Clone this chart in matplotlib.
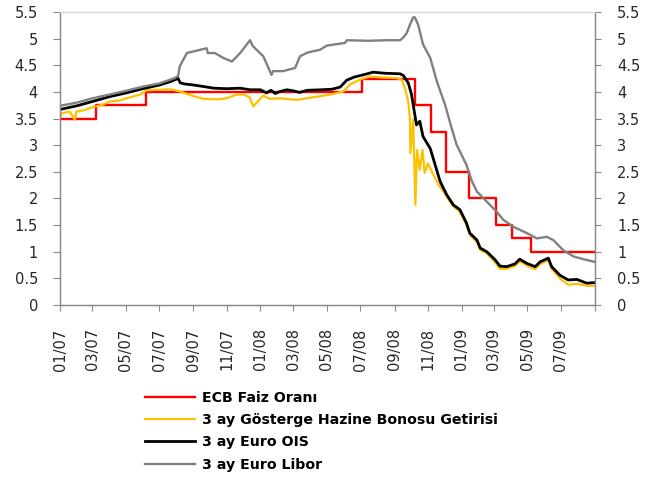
import matplotlib
matplotlib.use("Agg")
import matplotlib.pyplot as plt
import pandas as pd

# ECB policy rate: change dates and the new level
ecb_dates = ["2007-01-01", "2007-03-08", "2007-06-06", "2008-07-03", "2008-10-08",
             "2008-11-06", "2008-12-04", "2009-01-15", "2009-03-05", "2009-04-02",
             "2009-05-07", "2009-08-31"]
ecb_rate = [3.50, 3.75, 4.00, 4.25, 3.75, 3.25, 2.50, 2.00, 1.50, 1.25, 1.00, 1.00]

# 3-month benchmark T-bill yield
bill_dates = ["2007-01-01", "2007-01-04", "2007-01-19", "2007-01-28", "2007-01-31",
              "2007-02-15", "2007-03-03", "2007-03-20", "2007-04-02", "2007-04-20",
              "2007-05-02", "2007-05-27", "2007-06-08", "2007-07-20", "2007-08-07",
              "2007-09-01", "2007-09-19", "2007-10-15", "2007-10-31", "2007-11-19",
              "2007-12-01", "2007-12-12", "2007-12-19", "2008-01-06", "2008-01-18",
              "2008-02-05", "2008-03-07", "2008-04-06", "2008-05-07", "2008-05-31",
              "2008-06-12", "2008-06-30", "2008-07-18", "2008-08-10", "2008-09-05",
              "2008-09-14", "2008-09-20", "2008-09-26", "2008-09-29", "2008-09-30",
              "2008-10-05", "2008-10-09", "2008-10-12", "2008-10-17", "2008-10-22",
              "2008-10-26", "2008-11-01", "2008-11-08", "2008-11-20", "2008-11-29",
              "2008-12-05", "2008-12-17", "2008-12-29", "2009-01-10", "2009-01-16",
              "2009-01-29", "2009-02-04", "2009-02-16", "2009-03-03", "2009-03-12",
              "2009-03-24", "2009-04-08", "2009-04-17", "2009-04-30", "2009-05-15",
              "2009-05-24", "2009-06-08", "2009-06-14", "2009-06-29", "2009-07-14",
              "2009-07-30", "2009-08-17", "2009-08-31"]
bill_yield = [3.51, 3.60, 3.63, 3.48, 3.63, 3.66, 3.72, 3.76, 3.82, 3.84,
              3.88, 3.95, 4.03, 4.05, 4.01, 3.92, 3.87, 3.86, 3.88, 3.95,
              3.95, 3.90, 3.73, 3.93, 3.87, 3.88, 3.85, 3.90, 3.95, 4.01,
              4.14, 4.23, 4.29, 4.27, 4.26, 4.23, 4.07, 3.82, 3.51, 2.85,
              3.48, 1.88, 2.91, 2.54, 2.91, 2.48, 2.66, 2.50, 2.26, 2.13,
              2.03, 1.85, 1.75, 1.50, 1.32, 1.18, 1.03, 0.97, 0.80, 0.68,
              0.68, 0.73, 0.82, 0.74, 0.67, 0.77, 0.84, 0.68, 0.50, 0.38,
              0.40, 0.36, 0.36]

# 3-month Euro OIS
ois_dates = ["2007-01-01", "2007-02-01", "2007-03-01", "2007-04-01", "2007-05-01",
             "2007-06-01", "2007-07-01", "2007-07-20", "2007-08-01", "2007-08-03",
             "2007-08-08", "2007-08-15", "2007-09-01", "2007-09-20", "2007-10-08",
             "2007-11-01", "2007-11-25", "2007-12-13", "2008-01-01", "2008-01-12",
             "2008-01-20", "2008-01-28", "2008-02-06", "2008-02-18", "2008-03-01",
             "2008-03-12", "2008-03-26", "2008-04-20", "2008-05-10", "2008-05-25",
             "2008-06-06", "2008-06-20", "2008-07-06", "2008-07-24", "2008-08-15",
             "2008-09-11", "2008-09-17", "2008-09-26", "2008-10-02", "2008-10-08",
             "2008-10-11", "2008-10-17", "2008-10-23", "2008-11-05", "2008-11-14",
             "2008-11-23", "2008-12-05", "2008-12-17", "2008-12-29", "2009-01-10",
             "2009-01-16", "2009-01-29", "2009-02-04", "2009-02-16", "2009-03-03",
             "2009-03-12", "2009-03-24", "2009-04-08", "2009-04-17", "2009-04-30",
             "2009-05-15", "2009-05-24", "2009-06-08", "2009-06-14", "2009-06-29",
             "2009-07-14", "2009-07-30", "2009-08-17", "2009-08-31"]
ois_rate = [3.67, 3.74, 3.82, 3.91, 3.98, 4.06, 4.13, 4.19, 4.24, 4.27,
            4.17, 4.15, 4.13, 4.10, 4.07, 4.06, 4.07, 4.04, 4.04, 3.98,
            4.03, 3.97, 4.01, 4.04, 4.02, 3.99, 4.03, 4.04, 4.05, 4.09,
            4.22, 4.28, 4.32, 4.37, 4.35, 4.34, 4.31, 4.17, 3.95, 3.57,
            3.38, 3.45, 3.16, 2.94, 2.63, 2.32, 2.07, 1.88, 1.79, 1.54,
            1.35, 1.22, 1.07, 1.00, 0.85, 0.73, 0.72, 0.77, 0.86, 0.78,
            0.72, 0.81, 0.88, 0.72, 0.56, 0.47, 0.48, 0.41, 0.42]

# 3-month Euro Libor
libor_dates = ["2007-01-01", "2007-02-01", "2007-03-01", "2007-04-01", "2007-05-01",
               "2007-06-01", "2007-07-01", "2007-07-29", "2007-08-04", "2007-08-07",
               "2007-08-20", "2007-09-01", "2007-09-25", "2007-09-27", "2007-10-10",
               "2007-10-25", "2007-11-10", "2007-11-25", "2007-12-13", "2007-12-18",
               "2008-01-06", "2008-01-21", "2008-01-24", "2008-02-11", "2008-03-04",
               "2008-03-13", "2008-03-27", "2008-04-18", "2008-05-01", "2008-06-03",
               "2008-06-06", "2008-07-15", "2008-08-20", "2008-09-11", "2008-09-16",
               "2008-09-23", "2008-09-29", "2008-10-05", "2008-10-08", "2008-10-14",
               "2008-10-23", "2008-11-05", "2008-11-17", "2008-12-02", "2008-12-14",
               "2008-12-23", "2009-01-10", "2009-01-20", "2009-01-29", "2009-02-16",
               "2009-03-06", "2009-03-18", "2009-04-05", "2009-04-30", "2009-05-18",
               "2009-06-05", "2009-06-17", "2009-07-05", "2009-07-24", "2009-08-11",
               "2009-08-31"]
libor_rate = [3.74, 3.80, 3.88, 3.95, 4.02, 4.10, 4.16, 4.26, 4.30, 4.48,
              4.73, 4.76, 4.82, 4.73, 4.73, 4.64, 4.57, 4.73, 4.97, 4.86,
              4.67, 4.32, 4.39, 4.39, 4.45, 4.67, 4.74, 4.79, 4.87, 4.92,
              4.97, 4.96, 4.97, 4.97, 5.01, 5.10, 5.26, 5.40, 5.40, 5.26,
              4.89, 4.64, 4.20, 3.76, 3.32, 3.01, 2.63, 2.32, 2.13, 1.94,
              1.75, 1.60, 1.47, 1.35, 1.25, 1.28, 1.22, 1.03, 0.91, 0.86,
              0.81]

labels = ["ECB Faiz Oranı", "3 ay Gösterge Hazine Bonosu Getirisi",
          "3 ay Euro OIS", "3 ay Euro Libor"]

tick_dates = ["2007-01-01", "2007-03-01", "2007-05-01", "2007-07-01", "2007-09-01",
              "2007-11-01", "2008-01-01", "2008-03-01", "2008-05-01", "2008-07-01",
              "2008-09-01", "2008-11-01", "2009-01-01", "2009-03-01", "2009-05-01",
              "2009-07-01", "2009-09-01"]
tick_labels = ["01/07", "03/07", "05/07", "07/07", "09/07", "11/07", "01/08", "03/08",
               "05/08", "07/08", "09/08", "11/08", "01/09", "03/09", "05/09", "07/09", ""]
y_ticks = [0, 0.5, 1, 1.5, 2, 2.5, 3, 3.5, 4, 4.5, 5, 5.5]
y_tick_labels = ["0", "0.5", "1", "1.5", "2", "2.5", "3", "3.5", "4", "4.5", "5", "5.5"]

plt.rcParams["font.family"] = ["DejaVu Sans"]

fig = plt.figure(figsize=(6.66, 4.79), dpi=100)
ax = fig.add_axes([60 / 666, 1 - 305 / 479, 535 / 666, 293 / 479])

to_dt = pd.to_datetime
l1, = ax.plot(to_dt(ecb_dates), ecb_rate, color="#FF0000", lw=1.7, drawstyle="steps-post")
l2, = ax.plot(to_dt(bill_dates), bill_yield, color="#FFC000", lw=1.6)
l3, = ax.plot(to_dt(ois_dates), ois_rate, color="#000000", lw=2.0)
l4, = ax.plot(to_dt(libor_dates), libor_rate, color="#808080", lw=1.7)

label_color = "#262626"
ax.set_xlim(to_dt("2007-01-01"), to_dt("2009-09-01"))
ax.set_ylim(0, 5.5)
ax.set_xticks(to_dt(tick_dates))
ax.set_xticklabels(tick_labels, rotation=90, fontsize=10.5, color=label_color)
ax.set_yticks(y_ticks)
ax.set_yticklabels(y_tick_labels, fontsize=10.5, color=label_color)
ax.tick_params(axis="x", direction="out", length=4.3, width=0.8, color="#898989", pad=12.5)
ax.tick_params(axis="y", direction="out", length=5, width=0.8, color="#898989", pad=10.8)

ax2 = ax.twinx()
ax2.set_ylim(0, 5.5)
ax2.set_yticks(y_ticks)
ax2.set_yticklabels(y_tick_labels, fontsize=10.5, color=label_color)
ax2.tick_params(axis="y", direction="out", length=4.5, width=0.8, color="#898989", pad=11.5)

for a in (ax, ax2):
    for side in ("left", "bottom", "right"):
        a.spines[side].set_color("#898989")
        a.spines[side].set_linewidth(0.9)
    a.spines["top"].set_color("#D9D9D9")
    a.spines["top"].set_linewidth(0.9)

fig.legend([l1, l2, l3, l4], labels, loc="upper left",
           bbox_to_anchor=(145 / 666, 1 - 391 / 479), frameon=False,
           prop={"weight": "bold", "size": 10.2}, handlelength=3.55,
           handletextpad=0.5, labelspacing=0.58, borderpad=0, borderaxespad=0)

fig.savefig("out.png", dpi=100)
